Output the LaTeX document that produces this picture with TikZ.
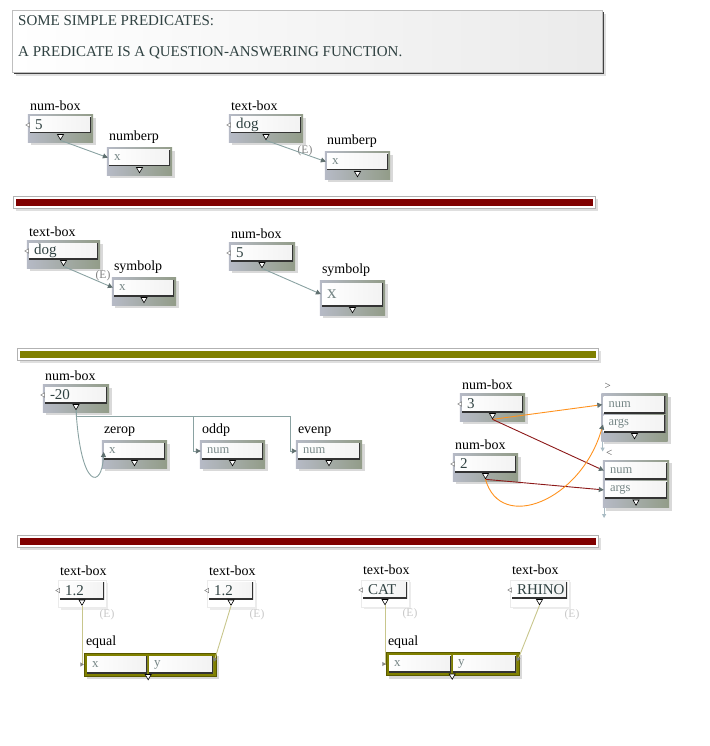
\documentclass[tikz,border=0pt]{standalone}
\usepackage{fontspec}
\setmainfont{Liberation Serif}
\usetikzlibrary{positioning,fit,shadows,backgrounds,shapes.geometric,arrows.meta}

\definecolor{framel}{RGB}{182,186,198}
\definecolor{framer}{RGB}{146,156,136}
\definecolor{wirecol}{RGB}{138,162,162}
\definecolor{tipgray}{RGB}{96,112,112}
\definecolor{slate}{RGB}{48,66,66}
\definecolor{fieldgray}{RGB}{118,134,134}
\definecolor{barred}{RGB}{128,0,0}
\definecolor{barolive}{RGB}{128,128,0}
\definecolor{wirered}{RGB}{140,24,24}
\definecolor{wireorange}{RGB}{255,146,30}
\definecolor{paleolive}{RGB}{200,198,140}
\definecolor{stubcol}{RGB}{170,188,196}

\tikzset{
  field/.style={rectangle, left color=white, right color=black!5, minimum height=16pt,
    inner xsep=5pt, inner ysep=0pt, text width=#1, align=left, text=slate,
    font=\fontsize{15}{15}\selectfont,
    path picture={\draw[black!80, line width=2.4pt] (path picture bounding box.north east)
      -- (path picture bounding box.south east) -- (path picture bounding box.south west);}},
  field/.default=51pt,
  arg/.style={field=#1, text=fieldgray, font=\fontsize{13}{13}\selectfont},
  arg/.default=51pt,
  slot/.style={arg=#1, minimum height=17pt, font=\fontsize{12.5}{12.5}\selectfont},
  slot/.default=52pt,
  frame/.style={inner sep=2pt, left color=framel, right color=framer,
    drop shadow={shadow xshift=3pt, shadow yshift=-3pt, opacity=.3}},
  lightframe/.style={inner sep=1.5pt, fill=white, draw=black!8,
    drop shadow={shadow xshift=2.5pt, shadow yshift=-2.5pt, opacity=.15}},
  eqframe/.style={inner sep=3pt, fill=barolive, draw=barolive!70!black, line width=.5pt,
    drop shadow={shadow xshift=3pt, shadow yshift=-3pt, opacity=.3}},
  outtri/.style={regular polygon, regular polygon sides=3, shape border rotate=180,
    minimum size=7pt, inner sep=0pt, draw=black, fill=white, line width=.6pt},
  intri/.style={regular polygon, regular polygon sides=3, shape border rotate=90,
    minimum size=5pt, inner sep=0pt, draw=gray, fill=white, line width=.5pt},
  lab/.style={inner sep=1pt, font=\fontsize{14}{14}\selectfont},
  small/.style={inner sep=1pt, text=black!70, font=\fontsize{11}{11}\selectfont},
  note/.style={inner sep=0pt, text=gray, font=\fontsize{11.5}{11.5}\selectfont},
  faint/.style={note, text=black!22},
  link/.style={draw=wirecol, line width=.9pt, shorten >=1pt,
    -{Triangle[width=5pt,length=5pt,color=tipgray]}},
  plain/.style={draw=paleolive, line width=.9pt, shorten >=3pt,
    -{Triangle[open,width=4pt,length=3.5pt,color=gray]}},
  stub/.style={draw=stubcol, line width=.9pt, -{Triangle[width=4pt,length=4pt]}},
  headbox/.style={draw=black!25, left color=white, right color=black!8,
    drop shadow={shadow xshift=4pt, shadow yshift=-4pt, opacity=.25},
    drop shadow={shadow xshift=1.5pt, shadow yshift=-1.5pt, fill=black!75, opacity=1}},
  headtext/.style={align=left, inner sep=1pt, text=slate, font=\fontsize{15}{31}\selectfont},
  sepbox/.style={draw=black!30, fill=white,
    drop shadow={shadow xshift=3pt, shadow yshift=-3pt, opacity=.25},
    drop shadow={shadow xshift=1pt, shadow yshift=-1pt, fill=black!70, opacity=1}}
}

\begin{document}
\begin{tikzpicture}[x=1pt, y=-1pt]
    \useasboundingbox (0,0) rectangle (709,746);

    \node[headbox, minimum width=590pt, minimum height=62pt, anchor=north west] (head) at (12,10) {};
    \node[headtext, anchor=north west] (headtxt) at ([xshift=5pt, yshift=-4pt]head.north west)
        {SOME SIMPLE PREDICATES:\\A PREDICATE IS A QUESTION-ANSWERING FUNCTION.};

    \node[field] (n5) at (60.5,125) {5};
    \node[outtri, below=1pt of n5] (n5o) {};
    \node[intri, left=0pt of n5] (n5i) {};
    \node[lab, above right=5pt and -1pt of n5.north west] (n5l) {num-box};
    \node[arg] (np1) at (139.5,158) {x};
    \node[outtri, below=1pt of np1] (np1o) {};
    \node[lab, above right=5pt and -1pt of np1.north west] (np1l) {numberp};
    \node[field=60pt] (tdog) at (266,125) {dog};
    \node[outtri, below=1pt of tdog] (tdogo) {};
    \node[intri, left=0pt of tdog] (tdogi) {};
    \node[lab, above right=5pt and -1pt of tdog.north west] (tdogl) {text-box};
    \node[arg] (np2) at (357.5,162) {x};
    \node[outtri, below=1pt of np2] (np2o) {};
    \node[lab, above right=5pt and -1pt of np2.north west] (np2l) {numberp};
    \node[note] (e1) at (305,151) {(E)};

    \draw[sepbox] (13,196) rectangle (595,208);
    \fill[barred] (15.5,198.5) rectangle (592.5,205.5);

    \node[field=59pt] (tdog2) at (63.5,251) {dog};
    \node[outtri, below=1pt of tdog2] (tdog2o) {};
    \node[intri, left=0pt of tdog2] (tdog2i) {};
    \node[lab, above right=5pt and -1pt of tdog2.north west] (tdog2l) {text-box};
    \node[arg=50pt] (sp1) at (144,288) {x};
    \node[outtri, below=1pt of sp1] (sp1o) {};
    \node[lab, above right=5pt and -1pt of sp1.north west] (sp1l) {symbolp};
    \node[note] (e2) at (103,276) {(E)};
    \node[field=52pt] (n5b) at (262,253) {5};
    \node[outtri, below=1pt of n5b] (n5bo) {};
    \node[intri, left=0pt of n5b] (n5bi) {};
    \node[lab, above right=5pt and -1pt of n5b.north west] (n5bl) {num-box};
    \node[arg, minimum height=23pt, font=\fontsize{19}{19}\selectfont] (sp2) at (352.5,294.5) {x};
    \node[outtri, below=1pt of sp2] (sp2o) {};
    \node[lab, above right=5pt and -1pt of sp2.north west] (sp2l) {symbolp};

    \draw[sepbox] (17,348) rectangle (598,360);
    \fill[barolive] (19.5,350.5) rectangle (595.5,357.5);

    \node[field=52pt] (m20) at (76,395) {-20};
    \node[outtri, below=1pt of m20] (m20o) {};
    \node[intri, left=0pt of m20] (m20i) {};
    \node[lab, above right=5pt and -1pt of m20.north west] (m20l) {num-box};
    \node[arg] (zerop) at (134.5,451) {x};
    \node[outtri, below=1pt of zerop] (zeropo) {};
    \node[lab, above right=5pt and -1pt of zerop.north west] (zeropl) {zerop};
    \node[slot=51pt, minimum height=16pt] (oddp) at (232.5,451) {num};
    \node[outtri, below=1pt of oddp] (oddpo) {};
    \node[lab, above right=5pt and -1pt of oddp.north west] (oddpl) {oddp};
    \node[slot, minimum height=16pt] (evenp) at (329,451) {num};
    \node[outtri, below=1pt of evenp] (evenpo) {};
    \node[lab, above right=5pt and -1pt of evenp.north west] (evenpl) {evenp};
    \coordinate (bus) at ([yshift=-6pt]m20o.south);

    \node[field] (n3) at (492.5,404) {3};
    \node[outtri, below=1pt of n3] (n3o) {};
    \node[intri, left=0pt of n3] (n3i) {};
    \node[lab, above right=5pt and -1pt of n3.north west] (n3l) {num-box};
    \node[field] (n2) at (485.5,464) {2};
    \node[outtri, below=1pt of n2] (n2o) {};
    \node[intri, left=0pt of n2] (n2i) {};
    \node[lab, above right=5pt and -1pt of n2.north west] (n2l) {num-box};
    \node[slot] (gtn) at (634.5,404.5) {num};
    \node[slot] (gta) at (634.5,423.5) {args};
    \node[outtri, below=1pt of gta] (gto) {};
    \node[small, above right=5pt and 0pt of gtn.north west] (gtl) {>};
    \node[slot] (ltn) at (636,471) {num};
    \node[slot] (lta) at (636,490) {args};
    \node[outtri, below=1pt of lta] (lto) {};
    \node[small, above right=5pt and 0pt of ltn.north west] (ltl) {<};

    \draw[sepbox] (17,535) rectangle (598,547);
    \fill[barred] (19.5,537.5) rectangle (595.5,544.5);

    \node[field=34pt, minimum height=17pt] (a1) at (82,590.5) {1.2};
    \node[outtri, below=.5pt of a1] (a1o) {};
    \node[intri, left=0pt of a1] (a1i) {};
    \node[lab, above right=5pt and -1pt of a1.north west] (a1l) {text-box};
    \node[faint] (a1e) at (107,615) {(E)};
    \node[field=34pt, minimum height=17pt] (a2) at (231,590.5) {1.2};
    \node[outtri, below=.5pt of a2] (a2o) {};
    \node[intri, left=0pt of a2] (a2i) {};
    \node[lab, above right=5pt and -1pt of a2.north west] (a2l) {text-box};
    \node[faint] (a2e) at (257,615) {(E)};
    \node[arg=50pt, minimum height=17pt] (eq1x) at (117,664.5) {x};
    \node[arg=54pt, minimum height=17pt] (eq1y) at (181,664.5) {y};
    \node[outtri, below=1pt of eq1x.south east, xshift=1pt] (eq1o) {};
    \node[lab, above right=6pt and -2pt of eq1x.north west] (eq1l) {equal};

    \node[field=34pt, minimum height=17pt] (cat) at (385,590) {CAT};
    \node[outtri, below=.5pt of cat] (cato) {};
    \node[intri, left=0pt of cat] (cati) {};
    \node[lab, above right=5pt and -1pt of cat.north west] (catl) {text-box};
    \node[faint] (cate) at (410,614) {(E)};
    \node[field=45pt, minimum height=17pt] (rhino) at (539.5,590) {RHINO};
    \node[outtri, below=.5pt of rhino] (rhinoo) {};
    \node[intri, left=0pt of rhino] (rhinoi) {};
    \node[lab, above right=5pt and -1pt of rhino.north west] (rhinol) {text-box};
    \node[faint] (rhinoe) at (572,615) {(E)};
    \node[arg=52pt, minimum height=17pt] (eq2x) at (420,664) {x};
    \node[arg=53pt, minimum height=17pt] (eq2y) at (484.5,664) {y};
    \node[outtri, below=1pt of eq2x.south east, xshift=1pt] (eq2o) {};
    \node[lab, above right=6pt and -2pt of eq2x.north west] (eq2l) {equal};

    \begin{scope}[on background layer]
        \node[frame, fit=(n5)(n5o)] (n5f) {};
        \node[frame, fit=(np1)(np1o)] (np1f) {};
        \node[frame, fit=(tdog)(tdogo)] (tdogf) {};
        \node[frame, fit=(np2)(np2o)] (np2f) {};
        \node[frame, fit=(tdog2)(tdog2o)] (tdog2f) {};
        \node[frame, fit=(sp1)(sp1o)] (sp1f) {};
        \node[frame, fit=(n5b)(n5bo)] (n5bf) {};
        \node[frame, fit=(sp2)(sp2o)] (sp2f) {};
        \node[frame, fit=(m20)(m20o)] (m20f) {};
        \node[frame, fit=(zerop)(zeropo)] (zeropf) {};
        \node[frame, fit=(oddp)(oddpo)] (oddpf) {};
        \node[frame, fit=(evenp)(evenpo)] (evenpf) {};
        \node[frame, fit=(n3)(n3o)] (n3f) {};
        \node[frame, fit=(n2)(n2o)] (n2f) {};
        \node[frame, fit=(gtn)(gta)(gto)] (gtf) {};
        \node[frame, fit=(ltn)(lta)(lto)] (ltf) {};
        \node[lightframe, fit=(a1)(a1o)] (a1f) {};
        \node[lightframe, fit=(a2)(a2o)] (a2f) {};
        \node[lightframe, fit=(cat)(cato)] (catf) {};
        \node[lightframe, fit=(rhino)(rhinoo)] (rhinof) {};
        \node[eqframe, fit=(eq1x)(eq1y)] (eq1f) {};
        \node[eqframe, fit=(eq2x)(eq2y)] (eq2f) {};
    \end{scope}

    \draw[link] (n5o.south) -- (np1.west);
    \draw[link] (tdogo.south) -- (np2.west);
    \draw[link] (tdog2o.south) -- (sp1.west);
    \draw[link] (n5bo.south) -- (sp2.west);
    \draw[link] (m20o.south) .. controls +(5,80) and +(-2,38) .. (zerop.west);
    \draw[link] (m20o.south) -- (bus) -| ([xshift=-8pt]oddp.west) -- (oddp.west);
    \draw[link] (bus) -| ([xshift=-7pt]evenp.west) -- (evenp.west);
    \draw[link, draw=wireorange] (n3o.south) -- (gtn.west);
    \draw[link, draw=wirered] (n3o.south) -- (ltn.west);
    \draw[link, draw=wirered] (n2o.south) -- (lta.west);
    \draw[link, draw=wireorange] (n2o.south) .. controls +(15,54) and +(-22,77) .. (gta.west);
    \draw[stub] ([xshift=1.5pt]gtf.south west) -- +(0,10);
    \draw[stub] ([xshift=1.5pt]ltf.south west) -- +(0,10);
    \draw[plain] (a1o.south) |- (eq1x.west);
    \draw[plain] (a2o.south) -- (eq1y.east);
    \draw[plain] (cato.south) |- (eq2x.west);
    \draw[plain] (rhinoo.south) -- (eq2y.east);
\end{tikzpicture}
\end{document}
